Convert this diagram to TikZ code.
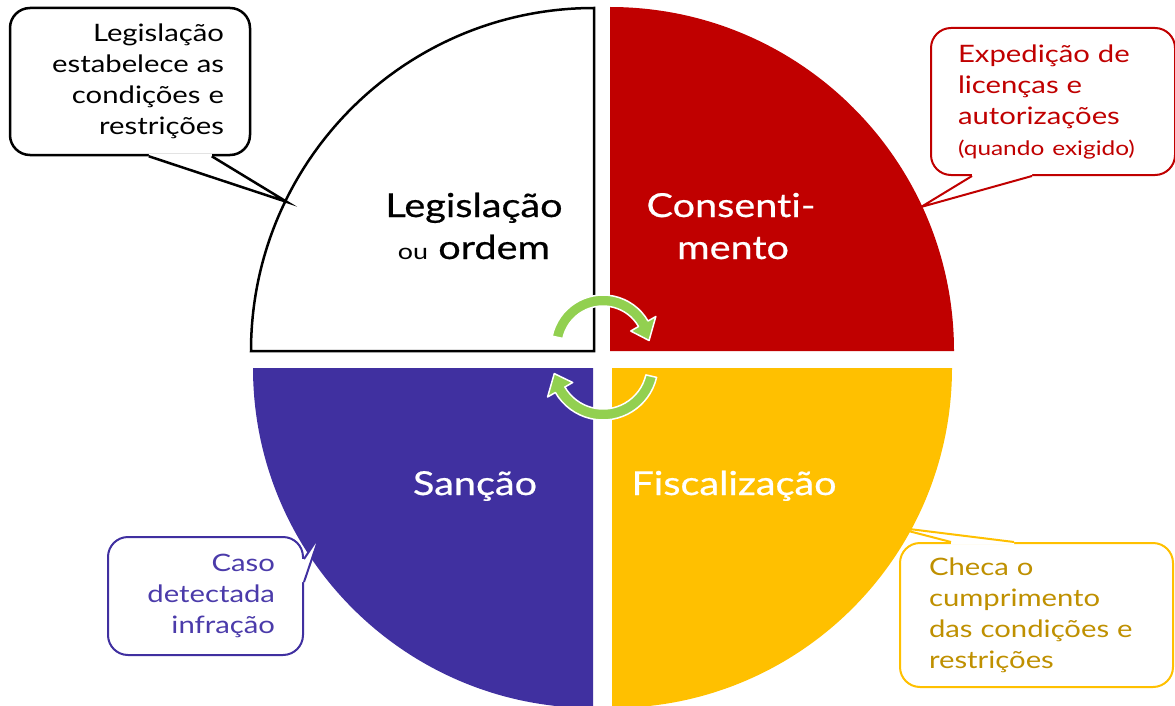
\documentclass[tikz,border=0pt]{standalone}
\usepackage{fontspec}
\setmainfont{Lato}[FakeStretch=1.22, Ligatures=NoCommon]
\newfontfamily\labelfont{Lato}[FakeStretch=1.2, FakeBold=0.6, Ligatures=NoCommon]
\usetikzlibrary{calc}
\definecolor{cred}{HTML}{C00000}
\definecolor{cpurple}{HTML}{4030A0}
\definecolor{cyellow}{HTML}{FFC000}
\definecolor{cgold}{HTML}{BF9000}
\definecolor{cgreen}{HTML}{92D050}
\definecolor{cptext}{HTML}{4B3BAA}
\begin{document}
\begin{tikzpicture}[x=1pt,y=1pt,
  callout/.style={draw, fill=white, rounded corners=20pt, line width=2pt, inner ysep=0pt,
    font=\fontsize{24}{31}\selectfont},
  bigtext/.style={font=\labelfont\fontsize{33}{43}\selectfont},
  cyc/.style={fill=cgreen, draw=white, line width=1.5pt, line join=round}]
\useasboundingbox (0,0) rectangle (1175,-706);
\begin{scope}
\clip (0,0) rectangle (1175,-706);
% quadrants
\filldraw[fill=white, draw=black, line width=2.5pt, line join=miter]
  (594,-351) -- (251,-351) arc[start angle=180, end angle=90, radius=343] -- cycle;
\fill[cred] (610,-351) -- (610,-7) arc[start angle=90, end angle=0, radius=344] -- cycle;
\fill[cpurple] (593,-368) -- (253,-368) arc[start angle=180, end angle=270, radius=340] -- cycle;
\fill[cyellow] (612,-368) -- (952,-368) arc[start angle=0, end angle=-90, radius=340] -- cycle;
\end{scope}
% quadrant labels
\node[bigtext, anchor=base] (leg1) at (474,-217) {Legislação};
\node[bigtext, anchor=base] (leg2) at (474,-259) {{\rmfamily\fontsize{22}{22}\selectfont ou} ordem};
\node[bigtext, anchor=base, text=white] (con1) at (731,-217) {Consenti-};
\node[bigtext, anchor=base, text=white] (con2) at (733,-259) {mento};
\node[bigtext, anchor=base, text=white] (san) at (475,-495) {Sanção};
\node[bigtext, anchor=base, text=white] (fis) at (734,-495) {Fiscalização};
% cycle arrows
\coordinate (c1) at (603,-347);
\filldraw[cyc] ($(c1)+(168:52)$) arc[start angle=168, end angle=30, radius=52]
  -- ($(c1)+(30:61)$) -- ($(c1)+(8:46.5)$) -- ($(c1)+(30:32)$) -- ($(c1)+(30:41)$)
  arc[start angle=30, end angle=168, radius=41] -- cycle;
\coordinate (c2) at (603,-365);
\filldraw[cyc] ($(c2)+(-13:55)$) arc[start angle=-13, end angle=-150, radius=55]
  -- ($(c2)+(-150:64)$) -- ($(c2)+(-170:49.5)$) -- ($(c2)+(-150:35)$) -- ($(c2)+(-150:44)$)
  arc[start angle=-150, end angle=-13, radius=44] -- cycle;
% callout: top left
\node[callout, draw=black, line width=2.5pt, minimum width=240, minimum height=147,
  inner xsep=26pt, text width=188pt, align=right] (tlbox) at (130,-81.5)
  {Legislação\\estabelece as\\condições e\\restrições};
\coordinate (tlA) at ($(tlbox.south west)+(140,0)$);
\coordinate (tlB) at ($(tlbox.south west)+(203,0)$);
\coordinate (tltip) at (287,-202);
\fill[white] ($(tlA)+(0,2.5)$) -- (tlA) -- (tltip) -- (tlB) -- ($(tlB)+(0,2.5)$) -- cycle;
\draw[line width=2.5pt, line join=miter] (tlA) -- (tltip) -- (tlB);
% callout: top right
\node[callout, draw=cred, text=cred, minimum width=240, minimum height=147,
  inner xsep=27pt, text width=190pt, align=left] (trbox) at (1053,-101.5)
  {Expedição de\\licenças e\\autorizações\\{\fontsize{20}{20}\selectfont(quando exigido)}};
\coordinate (trA) at ($(trbox.south west)+(42,0)$);
\coordinate (trB) at ($(trbox.south west)+(102,0)$);
\coordinate (trtip) at (921,-207);
\fill[white] ($(trA)+(0,2.5)$) -- (trA) -- (trtip) -- (trB) -- ($(trB)+(0,2.5)$) -- cycle;
\draw[cred, line width=2pt, line join=miter] (trA) -- (trtip) -- (trB);
% callout: bottom left
\node[callout, draw=cpurple, text=cptext, minimum width=195, minimum height=118,
  inner xsep=28pt, text width=139pt, align=right] (blbox) at (205.5,-596)
  {Caso\\detectada\\infração};
\coordinate (blA) at ($(blbox.north east)+(0,-23)$);
\coordinate (blB) at ($(blbox.north east)+(0,-46)$);
\coordinate (bltip) at (320,-535);
\fill[white] ($(blA)+(-2.5,0)$) -- (blA) -- (bltip) -- (blB) -- ($(blB)+(-2.5,0)$) -- cycle;
\draw[cpurple, line width=2pt, line join=miter] (blA) -- (bltip) -- (blB);
% callout: bottom right
\node[callout, draw=cyellow, text=cgold, minimum width=273, minimum height=144,
  inner xsep=29pt, text width=215pt, align=left] (brbox) at (1036.5,-615)
  {Checa o\\cumprimento\\das condições e\\restrições};
\coordinate (brA) at ($(brbox.north west)+(52,0)$);
\coordinate (brB) at ($(brbox.north west)+(115,0)$);
\coordinate (brtip) at (893,-527);
\fill[white] ($(brA)+(0,-2.5)$) -- (brA) -- (brtip) -- (brB) -- ($(brB)+(0,-2.5)$) -- cycle;
\draw[cyellow, line width=2pt, line join=miter] (brA) -- (brtip) -- (brB);
\end{tikzpicture}
\end{document}
